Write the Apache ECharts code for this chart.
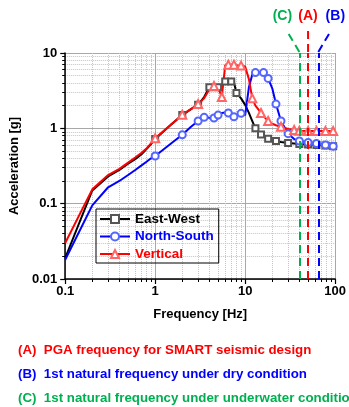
<!DOCTYPE html>
<html>
<head>
<meta charset="utf-8">
<script src="https://cdn.jsdelivr.net/npm/echarts@6/dist/echarts.min.js"></script>
<style>
  html, body { margin: 0; padding: 0; background: #fff; }
  #chart { width: 349px; height: 407px; }
</style>
</head>
<body>
<div id="chart"></div>
<script>
// response spectra (frequency in Hz, acceleration in g)
const freq = [0.1, 0.2, 0.3, 0.4, 0.5, 0.6, 0.7, 0.8, 0.9, 1, 1.5, 2, 2.5, 3, 3.5, 4, 4.5, 5, 5.5,
  6, 6.5, 7, 7.5, 8, 9, 10, 11, 12, 13, 15, 16, 18, 20, 22, 25, 30, 35, 40, 50, 62, 78, 95, 100];
const eastWest = [0.019, 0.15, 0.23, 0.28, 0.34, 0.39, 0.45, 0.53, 0.62, 0.72, 1.12, 1.5, 1.8, 2.05, 2.6, 3.5, 3.5, 3.5, 3.7,
  4.2, 4.2, 4.2, 4.1, 2.95, 2.5, 2.05, 1.6, 1.25, 1.0, 0.83, 0.78, 0.73, 0.70, 0.68, 0.66, 0.64, 0.63, 0.62, 0.61, 0.60, 0.59, 0.58, 0.58];
const northSouth = [0.018, 0.095, 0.165, 0.20, 0.24, 0.28, 0.32, 0.36, 0.40, 0.43, 0.63, 0.82, 1.05, 1.25, 1.4, 1.38, 1.37, 1.5, 1.6,
  1.62, 1.6, 1.5, 1.42, 1.48, 1.58, 1.5, 3.5, 5.2, 5.5, 5.6, 5.5, 4.6, 3.4, 2.1, 1.25, 0.85, 0.72, 0.68, 0.65, 0.63, 0.60, 0.58, 0.57];
const vertical = [0.03, 0.155, 0.24, 0.29, 0.35, 0.41, 0.47, 0.54, 0.63, 0.74, 1.12, 1.52, 1.8, 2.1, 2.5, 3.3, 3.65, 3.5, 2.6,
  6.9, 7.0, 7.0, 7.0, 6.9, 6.8, 6.6, 4.5, 2.5, 2.0, 1.6, 1.45, 1.25, 1.15, 1.1, 1.05, 0.98, 0.95, 0.93, 0.92, 0.92, 0.92, 0.92, 0.92];

// frequencies that carry a marker
const markEW = [1, 2, 3, 4, 5, 6, 7, 8, 13, 15, 18, 22, 30, 40, 50, 62, 78, 95];
const markNS = [1, 2, 3, 3.5, 4.5, 5, 6.5, 7.5, 9, 13, 16, 18, 22, 25, 30, 40, 50, 62, 78, 95];
const markV = [1, 2, 3, 4.5, 5.5, 6.5, 7.5, 9, 12, 15, 18, 25, 35, 40, 50, 62, 78, 95];

const xMinor = [0.2, 0.3, 0.4, 0.5, 0.6, 0.7, 0.8, 0.9, 2, 3, 4, 5, 6, 7, 8, 9, 20, 30, 40, 50, 60, 70, 80, 90];
const yMinor = [0.02, 0.03, 0.04, 0.05, 0.06, 0.07, 0.08, 0.09, 0.2, 0.3, 0.4, 0.5, 0.6, 0.7, 0.8, 0.9, 2, 3, 4, 5, 6, 7, 8, 9];

const refFreq = [40, 50, 65];
const refName = ['(C)', '(A)', '(B)'];
const refColor = ['#00b050', '#ff0000', '#0000ff'];
const refLean = [-1, 0, 1];

const notes = [
  '(A)  PGA frequency for SMART seismic design',
  '(B)  1st natural frequency under dry condition',
  '(C)  1st natural frequency under underwater condition'
];
const noteColor = ['#ff0000', '#0000ff', '#00b050'];

const FONT = "'Liberation Sans', Arial, sans-serif";

function build(values, marks, symbol) {
  return freq.map((f, i) => ({
    value: [f, values[i]],
    symbol: marks.indexOf(f) >= 0 ? symbol : 'none'
  }));
}

function curve(name, values, marks, symbol, size, lineColor, markColor) {
  return {
    name,
    type: 'line',
    data: build(values, marks, symbol),
    symbol,
    symbolSize: size,
    showSymbol: true,
    lineStyle: { color: lineColor, width: 2 },
    itemStyle: { color: markColor, borderWidth: 1 },
    emphasis: { disabled: true }
  };
}

const chart = echarts.init(document.getElementById('chart'));

const axisText = { color: '#000', fontWeight: 'bold', fontSize: 13, fontFamily: FONT };

chart.setOption({
  animation: false,
  textStyle: { fontFamily: FONT },
  grid: { left: 58, right: 12, top: 53, bottom: 128 },
  legend: {
    left: 96,
    top: 209,
    orient: 'vertical',
    itemWidth: 30,
    itemHeight: 10,
    itemGap: 3.5,
    padding: [3, 5, 2, 3],
    borderColor: '#000',
    borderWidth: 1,
    textStyle: { fontWeight: 'bold', fontSize: 13.5, lineHeight: 14 },
    data: [
      { name: 'East-West', textStyle: { color: '#000' } },
      { name: 'North-South', textStyle: { color: '#0000ff' } },
      { name: 'Vertical', textStyle: { color: '#ff0000' } }
    ]
  },
  xAxis: [
    {
      type: 'log',
      logBase: 10,
      min: 0.1,
      max: 100,
      name: 'Frequency [Hz]',
      nameLocation: 'middle',
      nameGap: 29,
      nameTextStyle: axisText,
      axisLine: { onZero: false, lineStyle: { color: '#000', width: 1.5 } },
      axisTick: { length: 5, lineStyle: { color: '#000', width: 1.2 } },
      axisLabel: Object.assign({ margin: 6 }, axisText),
      splitLine: { show: true, lineStyle: { color: '#a8a8a8', width: 1 } }
    },
    {
      type: 'value',
      min: -1,
      max: 2,
      position: 'bottom',
      axisLine: { show: false, onZero: false },
      axisLabel: { show: false },
      axisTick: { show: true, length: 3, customValues: xMinor.map(Math.log10), lineStyle: { color: '#000' } },
      splitLine: { show: true, lineStyle: { type: 'dotted', color: '#c4c4c4' } }
    }
  ],
  yAxis: [
    {
      type: 'log',
      logBase: 10,
      min: 0.01,
      max: 10,
      name: 'Acceleration [g]',
      nameLocation: 'middle',
      nameGap: 38,
      nameTextStyle: axisText,
      axisLine: { show: true, onZero: false, lineStyle: { color: '#000', width: 1.5 } },
      axisTick: { show: true, length: 5, lineStyle: { color: '#000', width: 1.2 } },
      axisLabel: Object.assign({ margin: 8 }, axisText),
      splitLine: { show: true, lineStyle: { color: '#a8a8a8', width: 1 } }
    },
    {
      type: 'value',
      min: -2,
      max: 1,
      position: 'left',
      axisLine: { show: false, onZero: false },
      axisLabel: { show: false },
      axisTick: { show: true, length: 3, customValues: yMinor.map(Math.log10), lineStyle: { color: '#000' } },
      splitLine: { show: true, lineStyle: { type: 'dotted', color: '#c4c4c4' } }
    }
  ],
  series: [
    curve('East-West', eastWest, markEW, 'emptyRect', 6, '#000', '#555'),
    curve('North-South', northSouth, markNS, 'emptyCircle', 7, '#0000ff', '#5566ff'),
    curve('Vertical', vertical, markV, 'emptyTriangle', 8, '#ff0000', '#ff6666'),
    {
      name: 'ref',
      type: 'line',
      data: [],
      z: 5,
      markLine: {
        silent: true,
        symbol: ['none', 'none'],
        label: { show: false },
        lineStyle: { type: [8, 5], width: 2 },
        data: refFreq.map((f, i) => ({ xAxis: f, lineStyle: { color: refColor[i], type: [8, 5], width: 2 } }))
      }
    }
  ]
});

// leader lines and labels above the plot, anchored to the reference frequencies
const graphics = [];
refFreq.forEach((f, i) => {
  const p = chart.convertToPixel({ xAxisIndex: 0, yAxisIndex: 0 }, [f, 10]);
  graphics.push({
    type: 'line',
    shape: { x1: p[0], y1: p[1] - 1, x2: p[0] + refLean[i] * 13, y2: p[1] - 23 },
    style: { stroke: refColor[i], lineWidth: 2, lineDash: [8, 5] }
  });
  graphics.push({
    type: 'text',
    x: p[0] + refLean[i] * 17,
    y: p[1] - 37,
    style: {
      text: refName[i], fill: refColor[i], font: 'bold 14px ' + FONT,
      textAlign: 'center', textVerticalAlign: 'middle'
    }
  });
});
notes.forEach((t, i) => {
  graphics.push({
    type: 'text',
    x: 18,
    y: 350 + i * 24,
    style: { text: t, fill: noteColor[i], font: 'bold 13.3px ' + FONT, textVerticalAlign: 'middle' }
  });
});
chart.setOption({ graphic: graphics });
</script>
</body>
</html>
